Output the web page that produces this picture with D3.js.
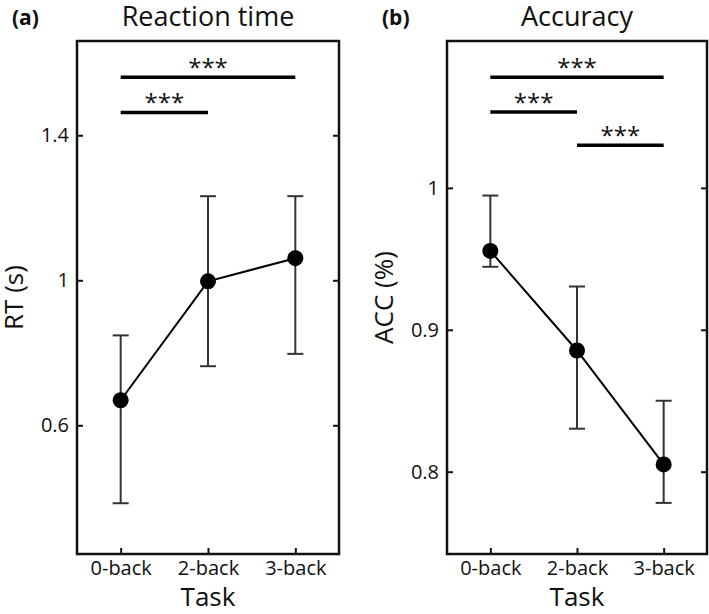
<!DOCTYPE html>
<html>
<head>
<meta charset="utf-8">
<script src="https://cdn.jsdelivr.net/npm/d3@7"></script>
<style>
  html, body { margin: 0; padding: 0; background: #fff; }
  svg { display: block; }
  text { font-family: "Open Sans", "Noto Sans", sans-serif; fill: #111; }
</style>
</head>
<body>
<script>
// ---------- data ----------
const tasks = ["0-back", "2-back", "3-back"];

const rtMean  = [0.669, 0.997, 1.061];
const rtUpper = [0.848, 1.232, 1.232];
const rtLower = [0.385, 0.763, 0.797];
const rtTicks = [0.6, 1.0, 1.4];
const rtSig = [ // [fromIndex, toIndex, yValue]
  [0, 2, 1.560],
  [0, 1, 1.463]
];

const accMean  = [0.9556, 0.8854, 0.8051];
const accUpper = [0.9946, 0.9305, 0.8500];
const accLower = [0.9444, 0.8303, 0.7780];
const accTicks = [0.8, 0.9, 1.0];
const accSig = [
  [0, 2, 1.078],
  [0, 1, 1.0535],
  [1, 2, 1.030]
];

const panels = [
  { letter: "(a)", title: "Reaction time", ylabel: "RT (s)", mean: rtMean, upper: rtUpper, lower: rtLower,
    ticks: rtTicks, sig: rtSig, domain: [0.245, 1.66], left: 77, right: 339 },
  { letter: "(b)", title: "Accuracy", ylabel: "ACC (%)", mean: accMean, upper: accUpper, lower: accLower,
    ticks: accTicks, sig: accSig, domain: [0.742, 1.1035], left: 447, right: 707 }
];

// ---------- drawing ----------
const W = 709, H = 614;
const plotTop = 41, plotBottom = 554;
const svg = d3.select("body").append("svg").attr("width", W).attr("height", H);
const fmt = d => d3.format("~g")(d);

panels.forEach(p => {
  const g = svg.append("g");
  const x = d3.scalePoint().domain(tasks).range([p.left, p.right]).padding(0.5);
  const y = d3.scaleLinear().domain(p.domain).range([plotBottom, plotTop]);
  const cx = (p.left + p.right) / 2;

  const yAxisL = d3.axisLeft(y).tickValues(p.ticks).tickFormat(fmt).tickSizeInner(-6).tickSizeOuter(0).tickPadding(8);
  const gl = g.append("g").attr("transform", `translate(${p.left},0)`).call(yAxisL);
  const yAxisR = d3.axisRight(y).tickValues(p.ticks).tickFormat("").tickSizeInner(-6).tickSizeOuter(0);
  const gr = g.append("g").attr("transform", `translate(${p.right},0)`).call(yAxisR);
  const xAxis = d3.axisBottom(x).tickSizeInner(-6).tickSizeOuter(0).tickPadding(7);
  const gb = g.append("g").attr("transform", `translate(0,${plotBottom})`).call(xAxis);

  [gl, gr, gb].forEach(a => {
    a.select(".domain").remove();
    a.selectAll(".tick line").attr("stroke", "#111").attr("stroke-width", 2);
    a.selectAll(".tick text").style("font-size", "20px").attr("fill", "#111")
      .style("font-family", '"Open Sans", sans-serif');
  });

  g.append("rect").attr("x", p.left).attr("y", plotTop)
    .attr("width", p.right - p.left).attr("height", plotBottom - plotTop)
    .attr("fill", "none").attr("stroke", "#111").attr("stroke-width", 2.5);

  const eb = g.append("g").attr("stroke", "#333").attr("stroke-width", 2).attr("fill", "none");
  tasks.forEach((t, i) => {
    const xx = x(t);
    eb.append("line").attr("x1", xx).attr("x2", xx).attr("y1", y(p.upper[i])).attr("y2", y(p.lower[i]));
    eb.append("line").attr("x1", xx - 8).attr("x2", xx + 8).attr("y1", y(p.upper[i])).attr("y2", y(p.upper[i]));
    eb.append("line").attr("x1", xx - 8).attr("x2", xx + 8).attr("y1", y(p.lower[i])).attr("y2", y(p.lower[i]));
  });

  const line = d3.line().x((d, i) => x(tasks[i])).y(d => y(d));
  g.append("path").datum(p.mean).attr("d", line).attr("fill", "none").attr("stroke", "#000").attr("stroke-width", 2);
  g.selectAll("circle.pt").data(p.mean).enter().append("circle")
    .attr("cx", (d, i) => x(tasks[i])).attr("cy", d => y(d)).attr("r", 8).attr("fill", "#000");

  p.sig.forEach(s => {
    const x1 = x(tasks[s[0]]), x2 = x(tasks[s[1]]), yy = y(s[2]);
    g.append("line").attr("x1", x1).attr("x2", x2).attr("y1", yy).attr("y2", yy)
      .attr("stroke", "#000").attr("stroke-width", 3.5);
    g.append("text").attr("x", (x1 + x2) / 2).attr("y", yy - 1).attr("text-anchor", "middle")
      .style("font-size", "24px").text("***");
  });

  g.append("text").attr("x", cx).attr("y", 26).attr("text-anchor", "middle")
    .style("font-size", "27px").text(p.title);
  g.append("text").attr("x", p.left - 65).attr("y", 25).attr("text-anchor", "start")
    .style("font-size", "21px").style("font-weight", "bold").text(p.letter);
  g.append("text").attr("x", cx).attr("y", 606).attr("text-anchor", "middle")
    .style("font-size", "26px").text("Task");
  g.append("text").attr("transform", `translate(${p.left - 54},${(plotTop + plotBottom) / 2}) rotate(-90)`)
    .attr("text-anchor", "middle").style("font-size", "26px").text(p.ylabel);
});
</script>
</body>
</html>
